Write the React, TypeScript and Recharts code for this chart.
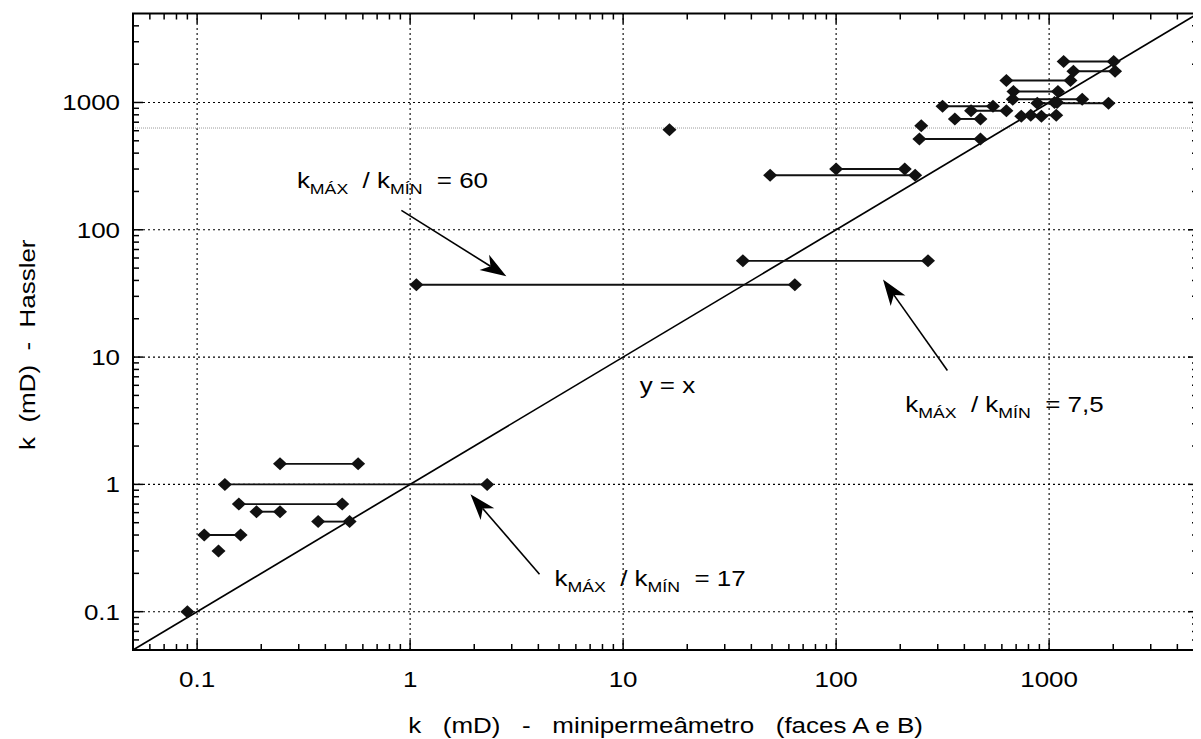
import React from 'react';
import { ScatterChart, Scatter, XAxis, YAxis, ReferenceLine, ReferenceDot, ReferenceArea } from 'recharts';

const FONT = '"Liberation Sans", Arial, Helvetica, sans-serif';
const STRETCH = 1.18;

// Horizontal pairs: k face A, k face B (minipermeâmetro) and k Hassler
const faceA = [0.245, 0.135, 0.157, 0.19, 0.37, 0.108, 1.07, 36.5, 49, 100, 246, 361, 316, 430, 680, 630, 1170, 1300, 675, 880, 1060, 740, 820];
const faceB = [0.57, 2.3, 0.48, 0.245, 0.52, 0.16, 64, 270, 235, 210, 476, 476, 545, 630, 1100, 1260, 2010, 2040, 1430, 1900, 1090, 920, 1080];
const hassler = [1.45, 1.0, 0.70, 0.61, 0.51, 0.40, 37, 57, 268, 300, 517, 742, 935, 860, 1220, 1490, 2100, 1760, 1060, 985, 1000, 780, 795];

// Isolated points
const singleMini = [0.09, 0.126, 16.5, 251];
const singleHassler = [0.10, 0.30, 610, 655];

const axisDomain: [number, number] = [0.05, 5000];
const identityEnds = [0.05, 5000];
const decadeValues = [0.1, 1, 10, 100, 1000];
const decadeLabels = ['0.1', '1', '10', '100', '1000'];
const scanLineValue = 630;

const annotationValues = ['60', '17', '7,5'];
const annotationTextX = [0.294, 4.76, 211];
const annotationTextY = [214, 0.158, 3.67];
const arrowFromX = [0.91, 4.05, 333];
const arrowFromY = [142, 0.197, 7.85];
const arrowToX = [2.83, 1.92, 166];
const arrowToY = [43.2, 0.835, 40.6];
const identityLabelX = 11.96;
const identityLabelY = 5.18;

const tickValues: number[] = [];
[0.01, 0.1, 1, 10, 100, 1000].forEach((d) => {
  for (let m = 1; m <= 9; m++) {
    const v = +(m * d).toPrecision(6);
    if (v > axisDomain[0] && v < axisDomain[1]) tickValues.push(v);
  }
});

const majorIndex = (v: number) => decadeValues.findIndex((d) => Math.abs(v / d - 1) < 1e-6);
const tickLen = (v: number) => (majorIndex(v) >= 0 ? 10 : 6);

const SText = (props: any) => {
  const { x, y, anchor = 'start', size = 22, children } = props;
  return (
    <text
      transform={`translate(${x} ${y}) scale(${STRETCH} 1)`}
      x={0}
      y={0}
      textAnchor={anchor}
      fontSize={size}
      fontFamily={FONT}
      fill="#000"
      style={{ whiteSpace: 'pre' }}
    >
      {children}
    </text>
  );
};

const BottomTick = (props: any) => {
  const { x, y, payload } = props;
  const i = majorIndex(payload.value);
  return (
    <g>
      <path d={`M${x},${y}V${y - tickLen(payload.value)}`} stroke="#000" strokeWidth={1.5} fill="none" />
      {i >= 0 && (
        <SText x={x} y={y + 37} anchor="middle">
          {decadeLabels[i]}
        </SText>
      )}
    </g>
  );
};

const LeftTick = (props: any) => {
  const { x, y, payload } = props;
  const i = majorIndex(payload.value);
  return (
    <g>
      <path d={`M${x},${y}H${x + tickLen(payload.value)}`} stroke="#000" strokeWidth={1.5} fill="none" />
      {i >= 0 && (
        <SText x={x - 13} y={y + 8} anchor="end">
          {decadeLabels[i]}
        </SText>
      )}
    </g>
  );
};

// inward ticks on the top edge (from vertical reference lines)
const TopTickMark = (len: number) => (props: any) => {
  const { x1, y1, y2 } = props;
  const top = Math.min(y1, y2);
  return <path d={`M${x1},${top}V${top + len}`} stroke="#000" strokeWidth={1.5} fill="none" />;
};

// inward ticks on the right edge (from horizontal reference lines)
const RightTickMark = (len: number) => (props: any) => {
  const { x1, x2, y1 } = props;
  const right = Math.max(x1, x2);
  return <path d={`M${right},${y1}H${right - len}`} stroke="#000" strokeWidth={1.5} fill="none" />;
};

const Diamond = (props: any) => {
  const { cx, cy } = props;
  if (cx == null || cy == null) return <g />;
  const w = 7;
  const h = 6.5;
  return <polygon points={`${cx - w},${cy} ${cx},${cy - h} ${cx + w},${cy} ${cx},${cy + h}`} fill="#111" />;
};

const NoShape = () => <g />;

const Arrow = (props: any) => {
  const { x1, y1, x2, y2 } = props;
  const dx = x2 - x1;
  const dy = y2 - y1;
  const len = Math.sqrt(dx * dx + dy * dy) || 1;
  const ux = dx / len;
  const uy = dy / len;
  const nx = -uy;
  const ny = ux;
  const L = 26;
  const W = 9;
  const bx = x2 - ux * L;
  const by = y2 - uy * L;
  const notchX = x2 - ux * L * 0.72;
  const notchY = y2 - uy * L * 0.72;
  return (
    <g>
      <line x1={x1} y1={y1} x2={notchX} y2={notchY} stroke="#000" strokeWidth={1.6} />
      <polygon
        points={`${x2},${y2} ${bx + nx * W},${by + ny * W} ${notchX},${notchY} ${bx - nx * W},${by - ny * W}`}
        fill="#000"
      />
    </g>
  );
};

const ratioText = (value: string) => (props: any) => {
  const { cx, cy } = props;
  return (
    <SText x={cx} y={cy}>
      <tspan>k</tspan>
      <tspan fontSize={15} dy={6}>MÁX</tspan>
      <tspan dy={-6}>{'  / k'}</tspan>
      <tspan fontSize={15} dy={6}>MÍN</tspan>
      <tspan dy={-6}>{'  = ' + value}</tspan>
    </SText>
  );
};

const identityText = (props: any) => (
  <SText x={props.cx} y={props.cy}>
    {'y = x'}
  </SText>
);

const XTitle = (props: any) => {
  const vb = props.viewBox || {};
  return (
    <SText x={vb.x + vb.width / 2} y={vb.y + 83} anchor="middle">
      {'k   (mD)   -   minipermeâmetro   (faces A e B)'}
    </SText>
  );
};

const YTitle = (props: any) => {
  const vb = props.viewBox || {};
  const cx = vb.x + 27;
  const cy = vb.y + vb.height / 2 + 13;
  return (
    <text
      transform={`translate(${cx} ${cy}) rotate(-90) scale(${STRETCH} 1)`}
      x={0}
      y={0}
      textAnchor="middle"
      fontSize={22}
      fontFamily={FONT}
      fill="#000"
      style={{ whiteSpace: 'pre' }}
    >
      {'k  (mD)  -  Hassler'}
    </text>
  );
};

export default function App() {
  const pairs = faceA.map((a, i) => [
    { x: a, y: hassler[i] },
    { x: faceB[i], y: hassler[i] },
  ]);
  const singles = singleMini.map((x, i) => ({ x, y: singleHassler[i] }));
  const identity = identityEnds.map((v) => ({ x: v, y: v }));
  const [lo, hi] = axisDomain;
  const allTicks = [...decadeValues, ...tickValues.filter((v) => majorIndex(v) < 0)];

  return (
    <div style={{ width: 1193, height: 731, background: '#fff' }}>
      <ScatterChart width={1193} height={731} margin={{ top: 5.5, right: 3, left: 0, bottom: 0 }}>
        <XAxis
          type="number"
          dataKey="x"
          scale="log"
          domain={axisDomain}
          ticks={allTicks}
          interval={0}
          tickSize={0}
          tickMargin={0}
          tickLine={false}
          tick={BottomTick}
          height={89}
          axisLine={{ stroke: '#000', strokeWidth: 2 }}
          label={{ content: XTitle }}
        />
        <YAxis
          type="number"
          dataKey="y"
          scale="log"
          domain={axisDomain}
          ticks={allTicks}
          interval={0}
          tickSize={0}
          tickMargin={0}
          tickLine={false}
          tick={LeftTick}
          width={125}
          axisLine={{ stroke: '#000', strokeWidth: 2 }}
          label={{ content: YTitle }}
        />

        <ReferenceArea
          x1={lo}
          x2={hi}
          y1={lo}
          y2={hi}
          ifOverflow="visible"
          fill="none"
          fillOpacity={0}
          stroke="#000"
          strokeWidth={2}
        />

        {decadeValues.map((v) => (
          <ReferenceLine key={'gx' + v} x={v} stroke="#000" strokeWidth={1.1} strokeDasharray="2 3" />
        ))}
        {decadeValues.map((v) => (
          <ReferenceLine key={'gy' + v} y={v} stroke="#000" strokeWidth={1.1} strokeDasharray="2 3" />
        ))}
        <ReferenceLine y={scanLineValue} stroke="#9a9a9a" strokeWidth={1} strokeDasharray="1 1" />

        {tickValues.map((v) => (
          <ReferenceLine key={'tx' + v} x={v} stroke="#000" shape={TopTickMark(tickLen(v))} />
        ))}
        {tickValues.map((v) => (
          <ReferenceLine key={'ty' + v} y={v} stroke="#000" shape={RightTickMark(tickLen(v))} />
        ))}

        <Scatter data={identity} shape={NoShape} line={{ stroke: '#000', strokeWidth: 1.7 }} isAnimationActive={false} />

        {pairs.map((p, i) => (
          <Scatter
            key={'pair' + i}
            data={p}
            shape={Diamond}
            line={{ stroke: '#111', strokeWidth: 1.9 }}
            isAnimationActive={false}
          />
        ))}
        <Scatter data={singles} shape={Diamond} isAnimationActive={false} />

        {annotationValues.map((v, i) => (
          <ReferenceLine
            key={'arrow' + i}
            segment={[
              { x: arrowFromX[i], y: arrowFromY[i] },
              { x: arrowToX[i], y: arrowToY[i] },
            ]}
            shape={Arrow}
          />
        ))}
        {annotationValues.map((v, i) => (
          <ReferenceDot
            key={'txt' + i}
            x={annotationTextX[i]}
            y={annotationTextY[i]}
            r={0}
            shape={ratioText(v)}
          />
        ))}
        <ReferenceDot x={identityLabelX} y={identityLabelY} r={0} shape={identityText} />
      </ScatterChart>
    </div>
  );
}
